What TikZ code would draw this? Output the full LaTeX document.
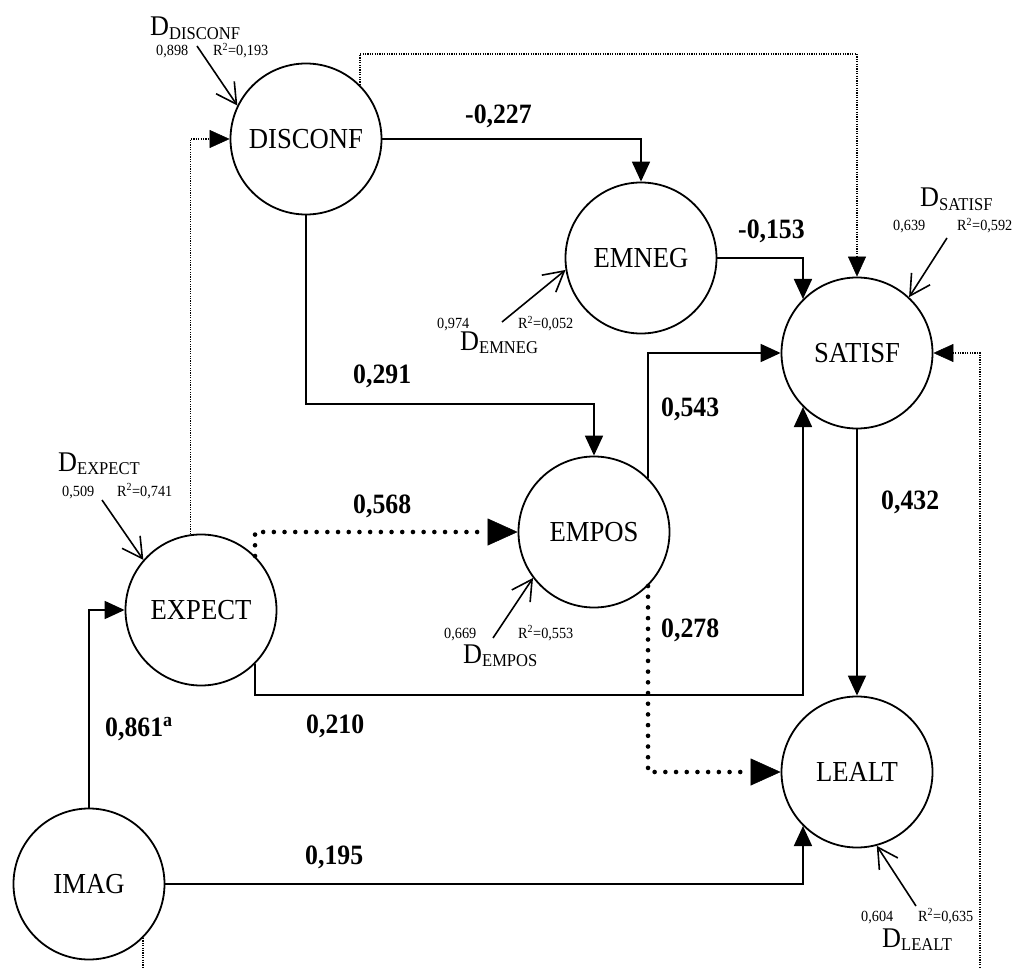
\documentclass[tikz,border=0pt]{standalone}
\usepackage{fontspec}
\setmainfont[FakeStretch=0.92]{Liberation Serif}
\usetikzlibrary{arrows.meta}

% disturbance term: large D with a lowered subscript name
\newcommand{\distterm}[1]{D\raisebox{-3.5pt}{\fontsize{18}{20}\selectfont #1}}

\begin{document}
\begin{tikzpicture}[x=1pt,y=-1pt,
  latent/.style={circle,draw,line width=1.8pt,minimum size=151pt,inner sep=0pt,
    font=\fontsize{29}{31}\selectfont},
  conn/.style={line width=1.8pt,-{Triangle[length=20pt,width=18pt]}},
  tdot/.style={line width=1.2pt,dash pattern=on 1.1pt off 1.3pt,
    -{Triangle[length=20pt,width=18pt,line width=0.5pt]}},
  hdot/.style={line width=4.6pt,line cap=round,dash pattern=on 0pt off 10.7pt,
    -{Triangle[length=30pt,width=27pt,line width=0.5pt]}},
  dist/.style={line width=1.6pt,-{Straight Barb[length=20pt,width=22pt]}},
  coef/.style={anchor=base west,inner sep=0pt,font=\fontsize{28}{30}\selectfont\bfseries},
  small/.style={anchor=base west,inner sep=0pt,font=\fontsize{15.5}{17}\selectfont},
  dlab/.style={anchor=base west,inner sep=0pt,font=\fontsize{28.5}{30}\selectfont},
]
\useasboundingbox (0,0) rectangle (1020,968);
\clip (0,0) rectangle (1020,968);

% latent variables
\node[latent] (disconf) at (306,139) {DISCONF};
\node[latent] (emneg)   at (641,258) {EMNEG};
\node[latent] (satisf)  at (857,353) {SATISF};
\node[latent] (empos)   at (594,532) {EMPOS};
\node[latent] (expect)  at (201,610) {EXPECT};
\node[latent] (lealt)   at (857,772) {LEALT};
\node[latent] (imag)    at (89,884)  {IMAG};

% structural paths
\draw[conn] (disconf.east) -| (emneg.north);
\draw[conn] (disconf.south) |- (empos.north |- 0,404) -- (empos.north);
\draw[conn] (emneg.east) -| (satisf.135.7);
\draw[conn] (empos.45.4) |- (satisf.west);
\draw[conn] (expect.-45.4) -- (expect.-45.4 |- 0,695) -| (satisf.-135.7);
\draw[conn] (satisf.south) -- (lealt.north);
\draw[conn] (imag.north) |- (expect.west);
\draw[conn] (imag.east) -| (lealt.-135.7);

% heavy dotted paths
\draw[hdot] (expect.45.4) |- (empos.west);
\draw[hdot] (empos.-45.4) |- (lealt.west);

% fine dotted paths
\draw[tdot] (expect.98.4) |- (disconf.west);
\draw[tdot] (disconf.45.4) -- (disconf.45.4 |- 0,54) -| (satisf.north);
\draw[tdot] (imag.-45.3) -- (imag.-45.3 |- 0,1000) -| (satisf.east -| 980,0) -- (satisf.east);

% path coefficients
\node[coef] (c1) at (465,124) {-0,227};
\node[coef] (c2) at (738,239) {-0,153};
\node[coef] (c3) at (353,383) {0,291};
\node[coef] (c4) at (661,416) {0,543};
\node[coef] (c5) at (353,513) {0,568};
\node[coef] (c6) at (881,509) {0,432};
\node[coef] (c7) at (661,637) {0,278};
\node[coef] (c8) at (306,733) {0,210};
\node[coef] (c9) at (105,736) {0,861\textsuperscript{a}};
\node[coef] (c10) at (305,864) {0,195};

% disturbances
\coordinate (sDisconf) at (197,46);
\draw[dist] (sDisconf) -- (disconf.154.8);
\node[dlab]  (dDisconf) at (150,36) {\distterm{DISCONF}};
\node[small] (wDisconf) at (156,56) {0,898};
\node[small] (rDisconf) at (213,56) {R\textsuperscript{2}=0,193};

\coordinate (sEmneg) at (502,322);
\draw[dist] (sEmneg) -- (emneg.189.5);
\node[small] (wEmneg) at (437,329) {0,974};
\node[small] (rEmneg) at (518,329) {R\textsuperscript{2}=0,052};
\node[dlab]  (dEmneg) at (460,350) {\distterm{EMNEG}};

\coordinate (sSatisf) at (947,238);
\draw[dist] (sSatisf) -- (satisf.47.1);
\node[dlab]  (dSatisf) at (920,207) {\distterm{SATISF}};
\node[small] (wSatisf) at (893,231) {0,639};
\node[small] (rSatisf) at (957,231) {R\textsuperscript{2}=0,592};

\coordinate (sExpect) at (102,500);
\draw[dist] (sExpect) -- (expect.139.7);
\node[dlab]  (dExpect) at (58,471) {\distterm{EXPECT}};
\node[small] (wExpect) at (62,496) {0,509};
\node[small] (rExpect) at (117,496) {R\textsuperscript{2}=0,741};

\coordinate (sEmpos) at (493,638);
\draw[dist] (sEmpos) -- (empos.217.7);
\node[small] (wEmpos) at (444,638) {0,669};
\node[small] (rEmpos) at (518,638) {R\textsuperscript{2}=0,553};
\node[dlab]  (dEmpos) at (463,663) {\distterm{EMPOS}};

\coordinate (sLealt) at (916,906);
\draw[dist] (sLealt) -- (lealt.285.1);
\node[small] (wLealt) at (861,921) {0,604};
\node[small] (rLealt) at (918,921) {R\textsuperscript{2}=0,635};
\node[dlab]  (dLealt) at (882,947) {\distterm{LEALT}};
\end{tikzpicture}
\end{document}
